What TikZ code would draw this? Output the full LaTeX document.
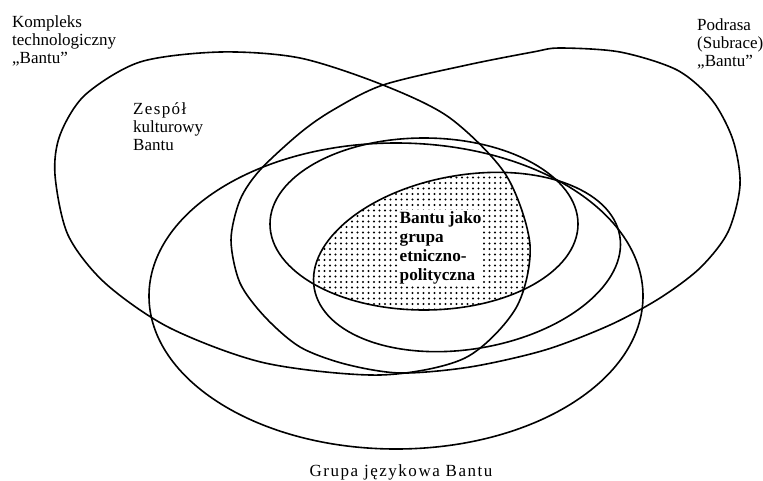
\documentclass[tikz,border=0pt]{standalone}
\usepackage{fontspec}
\setmainfont{Liberation Serif}
\usetikzlibrary{patterns.meta}

\begin{document}
\begin{tikzpicture}[x=1pt,y=-1pt,
  set/.style={line width=1.6pt},
  lbl/.style={inner sep=0pt,align=left,font=\fontsize{17}{18}\selectfont},
  core/.style={inner sep=1.5pt,align=left,fill=white,font=\fontsize{17.2}{18.7}\selectfont\bfseries}]
\useasboundingbox (0,0) rectangle (763,480);
% dotted core
\begin{scope}
  \clip[rotate around={9.7:(467,262)}] (467,262) ellipse [x radius=155, y radius=87];
  \clip (424,224) ellipse [x radius=154, y radius=86];
  \clip plot[smooth cycle] coordinates {(55,175) (68,235) (105,283) (170,328) (265,363) (380,375) (465,358) (516,308) (530,245) (506,175) (450,118) (383,85) (300,58) (220,52) (140,62) (85,95) (60,135)};
  \fill[pattern={Dots[distance=5.5pt,radius=1.2pt]}] (300,150) rectangle (560,330);
\end{scope}
% Kompleks
\draw[set] plot[smooth cycle] coordinates {(55,175) (68,235) (105,283) (170,328) (265,363) (380,375) (465,358) (516,308) (530,245) (506,175) (450,118) (383,85) (300,58) (220,52) (140,62) (85,95) (60,135)};
% Podrasa
\draw[set] plot[smooth cycle] coordinates {(560,48) (620,52) (677,70) (712,100) (733,140) (740,185) (728,232) (700,268) (660,298) (610,325) (545,350) (470,367) (400,373) (345,364) (300,347) (265,317) (240,283) (231,240) (240,200) (260,170) (300,133) (333,110) (383,85) (467,65) (533,52)};
% Grupa
\draw[set] (396,296) ellipse [x radius=247, y radius=153];
% inner ellipses
\draw[set] (424,224) ellipse [x radius=154, y radius=86];
\draw[set, rotate around={9.7:(467,262)}] (467,262) ellipse [x radius=155, y radius=87];

\node[lbl, anchor=base west] (kompleks) at (12,63) {Kompleks\\technologiczny\\„Bantu”};
\node[lbl, anchor=base west] (podrasa) at (697,66) {Podrasa\\(Subrace)\\„Bantu”};
\node[lbl, anchor=base west] (zespol) at (133,150) {{\addfontfeatures{LetterSpace=8}Zespół}\\kulturowy\\Bantu};
\node[lbl, anchor=base] (grupa) at (401,476) {\addfontfeatures{LetterSpace=9}Grupa językowa Bantu};
\node[core, anchor=base west] (bantu) at (398,280) {Bantu jako\\grupa\\etniczno-\\polityczna};
\end{tikzpicture}
\end{document}
